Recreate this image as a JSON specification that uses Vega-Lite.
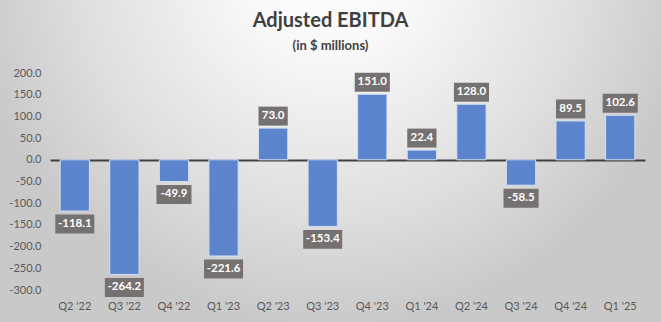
{
  "$schema": "https://vega.github.io/schema/vega-lite/v6.json",
  "width": 661,
  "height": 322,
  "autosize": "none",
  "padding": 0,
  "background": "#e0e0e0",
  "config": {
    "view": {
      "stroke": null,
      "fill": {
        "gradient": "radial",
        "x1": 0.5, "y1": 0.2, "r1": 0,
        "x2": 0.5, "y2": 0.2, "r2": 0.55,
        "stops": [
          {"offset": 0, "color": "#ffffff"},
          {"offset": 0.25, "color": "#f8f8f8"},
          {"offset": 0.7, "color": "#dedede"},
          {"offset": 1, "color": "#c9c9c9"}
        ]
      }
    },
    "font": "Lato"
  },
  "title": {
    "text": "Adjusted EBITDA",
    "subtitle": "(in $ millions)",
    "anchor": "middle",
    "frame": "group",
    "offset": -53,
    "font": "Lato",
    "fontSize": 20,
    "fontWeight": "bold",
    "color": "#404040",
    "subtitleFont": "Lato",
    "subtitleFontSize": 13,
    "subtitleFontWeight": "bold",
    "subtitleColor": "#404040",
    "subtitlePadding": 9
  },
  "data": {
    "values": [
      {"q": "Q2 '22", "v": -118.1},
      {"q": "Q3 '22", "v": -264.2},
      {"q": "Q4 '22", "v": -49.9},
      {"q": "Q1 '23", "v": -221.6},
      {"q": "Q2 '23", "v": 73.0},
      {"q": "Q3 '23", "v": -153.4},
      {"q": "Q4 '23", "v": 151.0},
      {"q": "Q1 '24", "v": 22.4},
      {"q": "Q2 '24", "v": 128.0},
      {"q": "Q3 '24", "v": -58.5},
      {"q": "Q4 '24", "v": 89.5},
      {"q": "Q1 '25", "v": 102.6}
    ]
  },
  "transform": [
    {"calculate": "replace(format(datum.v, '.1f'), '\u2212', '-')", "as": "lbl"},
    {"calculate": "length(datum.lbl)", "as": "len"}
  ],
  "encoding": {
    "y": {
      "field": "v", "type": "quantitative",
      "scale": {"domain": [-300, 200], "range": [290, 73], "nice": false},
      "axis": {
        "orient": "left", "offset": -43, "title": null, "domain": false,
        "ticks": false, "tickSize": 0, "grid": false, "labelPadding": 2,
        "values": [-300, -250, -200, -150, -100, -50, 0, 50, 100, 150, 200],
        "format": ".1f", "labelExpr": "replace(datum.label, '\u2212', '-')",
        "labelFont": "Lato", "labelFontSize": 11,
        "labelColor": "#595959"
      }
    }
  },
  "resolve": {"axis": {"x": "independent"}},
  "layer": [
    {
      "mark": {"type": "bar", "color": "#5b84cc", "stroke": "#d3def0", "strokeWidth": 1},
      "encoding": {
        "x": {
          "field": "q", "type": "nominal", "sort": null,
          "scale": {"range": [50, 645], "paddingInner": 0.41, "paddingOuter": 0.205},
          "axis": {
            "orient": "bottom", "offset": -22, "title": null, "domain": false,
            "ticks": false, "tickSize": 0, "labelPadding": 0, "labelAngle": 0,
            "labelFont": "Lato", "labelFontSize": 11, "labelColor": "#595959"
          }
        }
      }
    },
    {
      "mark": {
        "type": "point", "filled": true, "color": "#767171", "opacity": 1,
        "size": 1521, "strokeWidth": 0,
        "yOffset": {"expr": "datum.v >= 0 ? -12 : 13"}
      },
      "encoding": {
        "x": {
          "field": "q", "type": "nominal", "sort": null,
          "axis": {
            "orient": "top", "offset": -160, "title": null, "labels": false,
            "ticks": false, "domain": true, "domainColor": "#404040",
            "domainWidth": 2
          }
        },
        "shape": {
          "field": "len", "type": "ordinal",
          "scale": {
            "domain": [4, 5, 6],
            "range": [
              "M-0.75,-0.487H0.75V0.487H-0.75Z",
              "M-0.9,-0.487H0.9V0.487H-0.9Z",
              "M-1,-0.487H1V0.487H-1Z"
            ]
          },
          "legend": null
        }
      }
    },
    {
      "mark": {
        "type": "text", "color": "#ffffff", "font": "Lato", "fontSize": 11.5,
        "fontWeight": "bold", "baseline": "middle", "align": "center",
        "yOffset": {"expr": "datum.v >= 0 ? -12 : 13"}
      },
      "encoding": {
        "x": {"field": "q", "type": "nominal", "sort": null, "axis": null},
        "text": {"field": "lbl"}
      }
    }
  ]
}
